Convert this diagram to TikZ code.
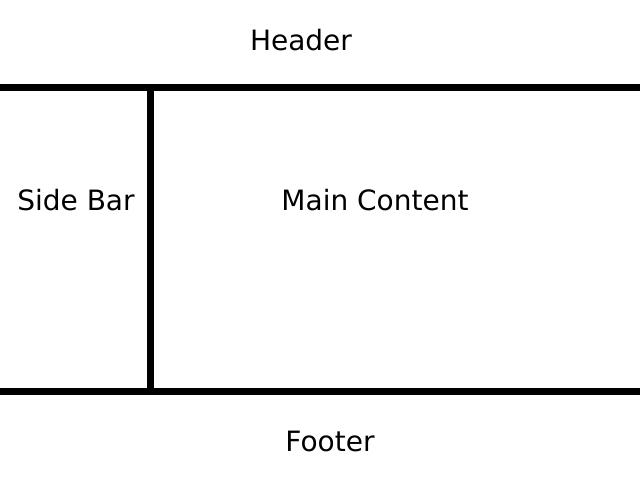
\documentclass[tikz,border=0pt]{standalone}
\usepackage{fontspec}
\setmainfont{DejaVu Sans}
\begin{document}
\begin{tikzpicture}[x=1pt,y=-1pt,
  rule/.style={line width=7pt,line cap=butt},
  label/.style={font=\fontsize{28}{33}\selectfont,inner sep=0pt,anchor=center}]
\useasboundingbox (0,0) rectangle (640,480);
\coordinate (tl) at (0,87);
\coordinate (tr) at (640,87);
\coordinate (bl) at (0,391);
\coordinate (br) at (640,391);
\coordinate (vt) at (150,87);
\coordinate (vb) at (150,391);
\draw[rule] (tl) -- (tr);
\draw[rule] (bl) -- (br);
\draw[rule] (vt) -- (vb);
\node[label] (header) at (301,40) {Header};
\node[label] (side) at (76,200) {Side Bar};
\node[label] (main) at (375,200) {Main Content};
\node[label] (footer) at (330,441) {Footer};
\end{tikzpicture}
\end{document}
